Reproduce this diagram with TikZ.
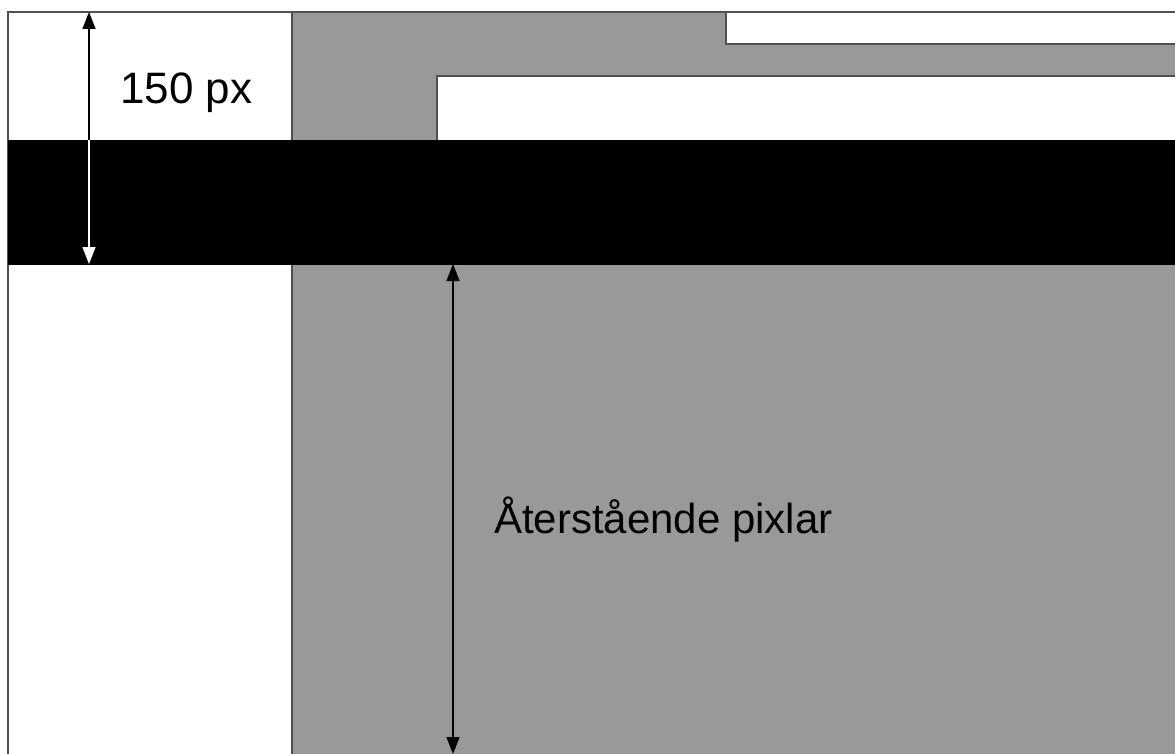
\documentclass[tikz,border=0pt]{standalone}
\usepackage{fontspec}
\setmainfont{Liberation Sans}
\usetikzlibrary{arrows.meta}
\definecolor{panelgray}{RGB}{153,153,153}
\definecolor{edgegray}{RGB}{80,80,80}
\tikzset{
  panel/.style={fill=panelgray, draw=edgegray, line width=1.5pt},
  whitebox/.style={fill=white, draw=edgegray, line width=1.5pt},
  band/.style={fill=black, draw=black},
  lbl/.style={font=\fontsize{44}{50}\selectfont, inner sep=0pt},
  lblsmall/.style={font=\fontsize{42}{48}\selectfont, inner sep=0pt}
}
\begin{document}
\begin{tikzpicture}[x=1pt,y=-1pt]
\useasboundingbox[fill=white] (0,0) rectangle (1175,754);
% left white column outline
\draw[edgegray, line width=1.5pt] (8,760) -- (8,12) -- (292,12);
% gray panel
\path[panel] (292,760) -- (292,12) -- (1180,12) -- (1180,760);
% white boxes in the panel
\path[whitebox] (1180,12) -- (726,12) -- (726,44) -- (1180,44);
\path[whitebox] (1180,76) -- (437,76) -- (437,141) -- (1180,141);
% black band
\path[band] (8,140) rectangle (1180,264);
% dimension arrows
\coordinate (t1) at (89,12);
\coordinate (m1) at (89,140);
\coordinate (b1) at (89,264);
\draw[line width=1.6pt, black, {Triangle[length=17pt,width=13pt]}-] (t1) -- (m1);
\draw[line width=1.6pt, white, -{Triangle[length=17pt,width=13pt]}] (m1) -- (b1);
\coordinate (t2) at (453,264);
\coordinate (b2) at (453,754);
\draw[line width=1.6pt, black, {Triangle[length=17pt,width=13pt]}-{Triangle[length=17pt,width=13pt]}] (t2) -- (b2);
% labels
\node[lbl, anchor=base west] (l150) at (120,104) {150 px};
\node[lblsmall, anchor=base west] (lrest) at (494,533) {Återstående pixlar};
\end{tikzpicture}
\end{document}
